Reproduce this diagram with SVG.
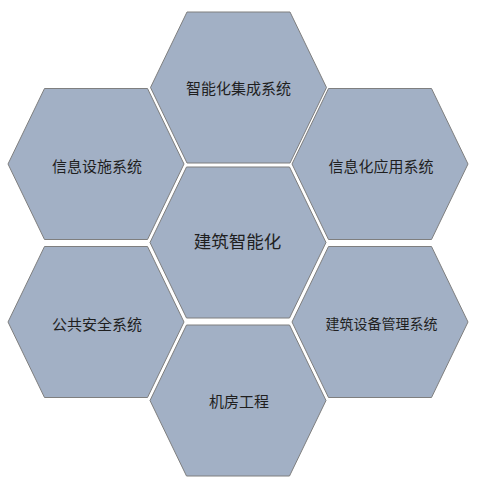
<svg xmlns="http://www.w3.org/2000/svg" width="481" height="481" viewBox="0 0 481 481">
<style>
.hex{fill:#A2B0C5;stroke:#7F7F7F;stroke-width:1}
.lbl{font-family:"Noto Sans CJK SC","Microsoft YaHei",sans-serif;font-size:15px;fill:#1F1F1F;text-anchor:middle;dominant-baseline:central}
.big{font-size:17.5px}
</style>
<defs>
<polygon id="hx" points="-88,0 -51.5,-75.5 51.5,-75.5 88,0 51.5,75.5 -51.5,75.5"/>
</defs>
<rect width="481" height="481" fill="#FFFFFF"/>
<g id="connectors"></g>
<g id="n-top" transform="translate(238.5,87.5)">
<use href="#hx" class="hex"/>
<text class="lbl" x="0" y="0">智能化集成系统</text>
</g>
<g id="n-lu" transform="translate(96,164)">
<use href="#hx" class="hex"/>
<text class="lbl" x="1" y="1">信息设施系统</text>
</g>
<g id="n-ru" transform="translate(380,164)">
<use href="#hx" class="hex"/>
<text class="lbl" x="1" y="1">信息化应用系统</text>
</g>
<g id="n-center" transform="translate(238,242.5)">
<use href="#hx" class="hex"/>
<text class="lbl big" x="-0.5" y="-2">建筑智能化</text>
</g>
<g id="n-ll" transform="translate(96,322)">
<use href="#hx" class="hex"/>
<text class="lbl" x="1" y="1">公共安全系统</text>
</g>
<g id="n-rl" transform="translate(380,322)">
<use href="#hx" class="hex"/>
<text class="lbl" x="1.5" y="1" style="font-size:14px">建筑设备管理系统</text>
</g>
<g id="n-bottom" transform="translate(238,400.5)">
<use href="#hx" class="hex"/>
<text class="lbl" x="1" y="0">机房工程</text>
</g>
</svg>
